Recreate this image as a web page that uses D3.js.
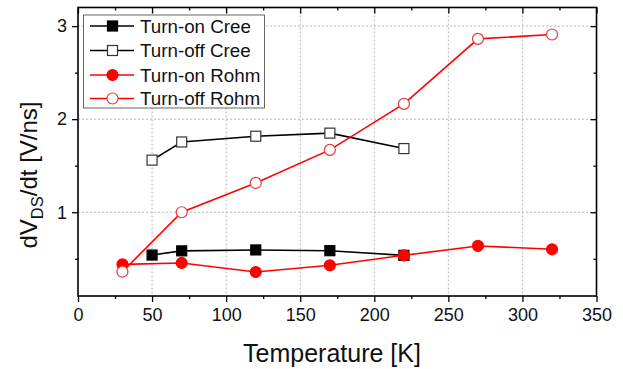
<!DOCTYPE html>
<html>
<head>
<meta charset="utf-8">
<script src="https://cdn.jsdelivr.net/npm/d3@7"></script>
<style>
  html, body { margin: 0; padding: 0; background: #fff; }
  svg { display: block; font-family: "Liberation Sans", Arial, sans-serif; }
</style>
</head>
<body>
<svg id="chart" width="623" height="369"></svg>
<script>
// ---- data ----
const creeTemps = [50, 70, 120, 170, 220];
const rohmTemps = [30, 70, 120, 170, 220, 270, 320];
const turnOnCree = [0.54, 0.585, 0.595, 0.587, 0.537];
const turnOffCree = [1.56, 1.755, 1.817, 1.85, 1.684];
const turnOnRohm = [0.44, 0.455, 0.358, 0.43, 0.537, 0.638, 0.602];
const turnOffRohm = [0.361, 1.0, 1.315, 1.67, 2.165, 2.863, 2.91];
const seriesNames = ["Turn-on Cree", "Turn-off Cree", "Turn-on Rohm", "Turn-off Rohm"];
const xTicks = [0, 50, 100, 150, 200, 250, 300, 350];
const yTicks = [1, 2, 3];
const xMinor = [25, 75, 125, 175, 225, 275, 325];
const yMinor = [0.5, 1.5, 2.5];

const series = [
  { name: seriesNames[0], x: creeTemps, y: turnOnCree, color: "#000", shape: "square", filled: true },
  { name: seriesNames[1], x: creeTemps, y: turnOffCree, color: "#000", shape: "square", filled: false },
  { name: seriesNames[2], x: rohmTemps, y: turnOnRohm, color: "#ff0000", shape: "circle", filled: true },
  { name: seriesNames[3], x: rohmTemps, y: turnOffRohm, color: "#ff0000", shape: "circle", filled: false }
];

const svg = d3.select("#chart");
const L = 78, R = 596.5, T = 7.5, B = 296;
const x = d3.scaleLinear().domain([0, 350]).range([L, R]);
const y = d3.scaleLinear().domain([0.1, 3.2]).range([B, T]);

// grid
const grid = svg.append("g");
grid.selectAll("line.gx").data(xTicks.filter(d => d > 0 && d < 350)).enter().append("line")
  .attr("x1", d => x(d)).attr("x2", d => x(d)).attr("y1", T).attr("y2", B)
  .attr("stroke", "#b5b5b5").attr("stroke-width", 1).attr("stroke-dasharray", "2,2");
grid.selectAll("line.gy").data(yTicks).enter().append("line")
  .attr("y1", d => y(d)).attr("y2", d => y(d)).attr("x1", L).attr("x2", R)
  .attr("stroke", "#b5b5b5").attr("stroke-width", 1).attr("stroke-dasharray", "2,2");

// axes
const fs = "18px";
const xAxis = svg.append("g").attr("transform", `translate(0,${B})`)
  .call(d3.axisBottom(x).tickValues(xTicks).tickSize(6).tickPadding(6).tickFormat(d3.format("d")));
const xAxisMinor = svg.append("g").attr("transform", `translate(0,${B})`)
  .call(d3.axisBottom(x).tickValues(xMinor).tickSize(3).tickFormat(""));
const yAxis = svg.append("g").attr("transform", `translate(${L},0)`)
  .call(d3.axisLeft(y).tickValues(yTicks).tickSize(6).tickPadding(5).tickFormat(d3.format("d")));
const yAxisMinor = svg.append("g").attr("transform", `translate(${L},0)`)
  .call(d3.axisLeft(y).tickValues(yMinor).tickSize(3).tickFormat(""));
const xTop = svg.append("g").attr("transform", `translate(0,${T})`)
  .call(d3.axisBottom(x).tickValues(xTicks).tickSize(6).tickFormat(""));
const xTopMinor = svg.append("g").attr("transform", `translate(0,${T})`)
  .call(d3.axisBottom(x).tickValues(xMinor).tickSize(3).tickFormat(""));
const yRight = svg.append("g").attr("transform", `translate(${R},0)`)
  .call(d3.axisLeft(y).tickValues(yTicks).tickSize(6).tickFormat(""));
const yRightMinor = svg.append("g").attr("transform", `translate(${R},0)`)
  .call(d3.axisLeft(y).tickValues(yMinor).tickSize(3).tickFormat(""));

[xAxis, xAxisMinor, yAxis, yAxisMinor, xTop, xTopMinor, yRight, yRightMinor].forEach(g => {
  g.select(".domain").remove();
  g.selectAll(".tick line").attr("stroke", "#000").attr("stroke-width", 1.3);
  g.selectAll("text").attr("font-size", fs).attr("font-family", "Liberation Sans, Arial, sans-serif").attr("fill", "#111");
});
xAxis.selectAll("text").attr("dy", "0.72em");

// frame
svg.append("rect").attr("x", L).attr("y", T).attr("width", R - L).attr("height", B - T)
  .attr("fill", "none").attr("stroke", "#000").attr("stroke-width", 1.6);

// series
const line = d3.line().x(d => x(d[0])).y(d => y(d[1]));
function drawMarker(g, s, cx, cy) {
  const fill = s.filled ? s.color : "#fff";
  const stroke = s.filled ? s.color : (s.shape === "circle" ? "#e8383d" : "#333");
  if (s.shape === "square") {
    g.append("rect").attr("x", cx - 5).attr("y", cy - 5).attr("width", 10).attr("height", 10)
      .attr("fill", fill).attr("stroke", stroke).attr("stroke-width", 1.2);
  } else {
    g.append("circle").attr("cx", cx).attr("cy", cy).attr("r", 5.5)
      .attr("fill", fill).attr("stroke", stroke).attr("stroke-width", 1.2);
  }
}
series.forEach(s => {
  const pts = s.x.map((t, i) => [t, s.y[i]]);
  const g = svg.append("g");
  g.append("path").datum(pts).attr("d", line).attr("fill", "none")
    .attr("stroke", s.color).attr("stroke-width", 1.6);
  pts.forEach(p => drawMarker(g, s, x(p[0]), y(p[1])));
});

// legend
const lg = svg.append("g");
lg.append("rect").attr("x", 83.5).attr("y", 15).attr("width", 181).attr("height", 93)
  .attr("fill", "#fff").attr("stroke", "#666").attr("stroke-width", 1);
const legY = [26, 50.5, 75, 98.5];
series.forEach((s, i) => {
  const yy = legY[i];
  lg.append("line").attr("x1", 90).attr("x2", 134).attr("y1", yy).attr("y2", yy)
    .attr("stroke", s.color).attr("stroke-width", 1.6);
  drawMarker(lg, s, 112.5, yy);
  lg.append("text").attr("x", 140).attr("y", yy).attr("dy", "0.35em")
    .attr("font-size", "18.8px").attr("fill", "#111").text(s.name);
});

// axis titles
svg.append("text").attr("x", 332).attr("y", 362).attr("text-anchor", "middle")
  .attr("font-size", "25px").attr("fill", "#111").text("Temperature [K]");

const yt = svg.append("text").attr("transform", "translate(37,175) rotate(-90)")
  .attr("text-anchor", "middle").attr("font-size", "24px").attr("fill", "#111");
yt.append("tspan").text("dV");
yt.append("tspan").attr("font-size", "16.5px").attr("dy", "6").text("DS");
yt.append("tspan").attr("dy", "-6").text("/dt [V/ns]");
</script>
</body>
</html>
